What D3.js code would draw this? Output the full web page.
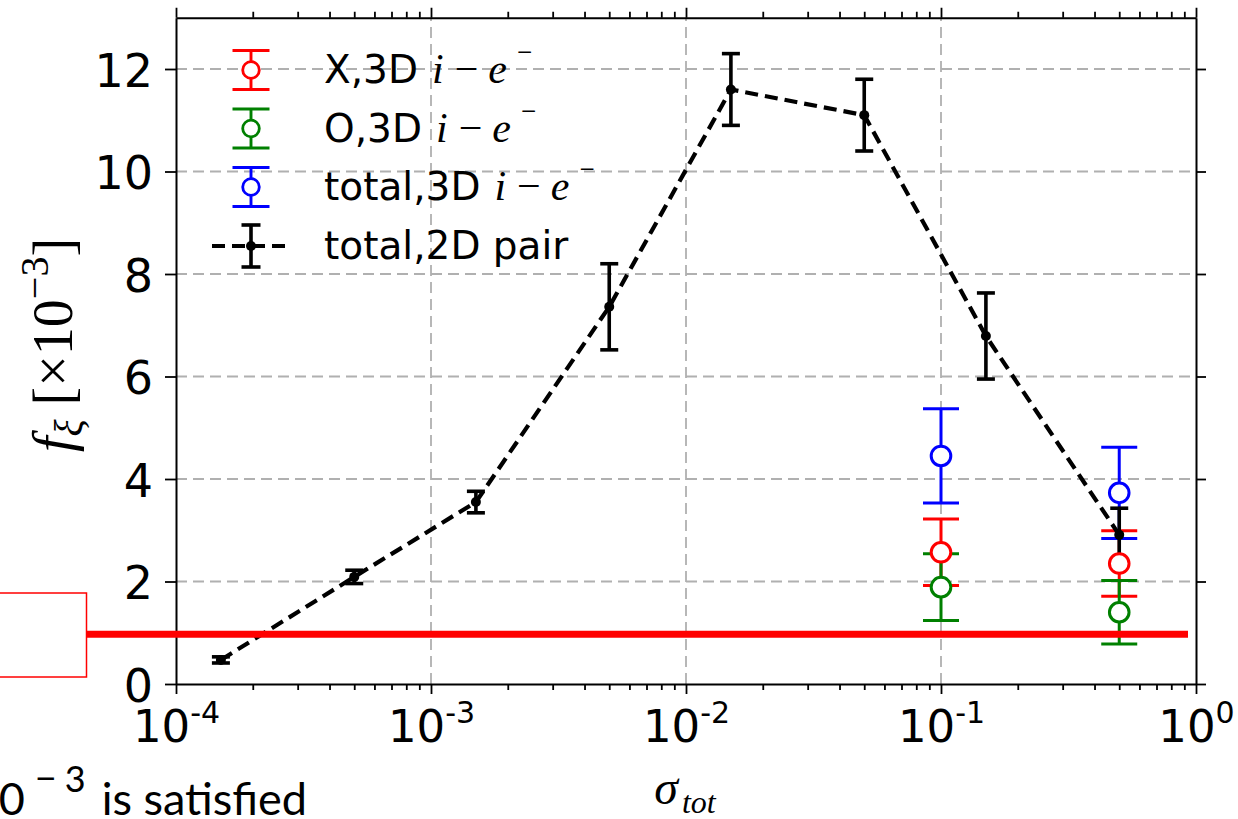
<!DOCTYPE html>
<html>
<head>
<meta charset="utf-8">
<script src="https://cdn.jsdelivr.net/npm/d3@7"></script>
<style>
  body { margin: 0; background: #fff; }
  svg { display: block; }
</style>
</head>
<body>
<div id="chart"></div>
<script>
// total, 2D pair runs
var pairSigma = [1.5e-4, 5e-4, 1.5e-3, 5e-3, 1.5e-2, 5e-2, 0.15, 0.5];
var pairF     = [0.47, 2.09, 3.55, 7.36, 11.6, 11.1, 6.79, 2.91];
var pairErr   = [0.06, 0.13, 0.21, 0.84, 0.70, 0.70, 0.84, 0.52];

// 3D i-e runs
var sigma3D  = [0.1, 0.5];
var fX       = [2.57, 2.35];
var errX     = [0.65, 0.64];
var fO       = [1.89, 1.40];
var errO     = [0.65, 0.62];
var fTotal   = [4.45, 3.73];
var errTotal = [0.92, 0.89];

// hand-drawn threshold line (x10^-3)
var threshold = 0.97;

var xMajor = [1e-4, 1e-3, 1e-2, 1e-1, 1];
var xExponents = ["-4", "-3", "-2", "-1", "0"];
var yTicks = [0, 2, 4, 6, 8, 10, 12];

var legendLabels = ["X,3D", "O,3D", "total,3D", "total,2D pair"];
var legendColors = ["#ff0000", "#008000", "#0000ff", "#000000"];

var W = 1238, H = 819;
// note: "top" is taken by window.top, so keep these prefixed
var axLeft = 176, axRight = 1196, axTop = 17.75, axBottom = 684;

var svg = d3.select("#chart").append("svg")
    .attr("width", W)
    .attr("height", H)
    .style("font-family", "'DejaVu Sans', sans-serif");

var x = d3.scaleLog().domain([1e-4, 1]).range([axLeft, axRight]);
var y = d3.scaleLinear().domain([0, 13]).range([axBottom, axTop]);

var xMinor = [];
for (var d = -4; d < 0; d++) {
  for (var k = 2; k < 10; k++) xMinor.push(k * Math.pow(10, d));
}

// grid
var grid = svg.append("g")
    .attr("stroke", "#b0b0b0")
    .attr("stroke-width", 1.8)
    .attr("stroke-dasharray", "11,6");
grid.selectAll(".vgrid")
    .data(xMajor.slice(1, -1))
  .enter().append("line")
    .attr("x1", function(v) { return x(v); })
    .attr("x2", function(v) { return x(v); })
    .attr("y1", axBottom).attr("y2", axTop);
grid.selectAll(".hgrid")
    .data(yTicks.slice(1))
  .enter().append("line")
    .attr("x1", axLeft).attr("x2", axRight)
    .attr("y1", function(v) { return y(v); })
    .attr("y2", function(v) { return y(v); });

// axes
function styleAxis(g) {
  g.select(".domain").attr("stroke", "#000").attr("stroke-width", 2);
  g.selectAll(".tick line").attr("stroke", "#000").attr("stroke-width", 1.8);
}

var xb = svg.append("g")
    .attr("transform", "translate(0," + axBottom + ")")
    .call(d3.axisBottom(x).tickValues(xMajor).tickSize(10).tickSizeOuter(0).tickFormat(""))
    .call(styleAxis);
svg.append("g")
    .attr("transform", "translate(0," + axBottom + ")")
    .call(d3.axisBottom(x).tickValues(xMinor).tickSize(6).tickFormat(""))
    .call(styleAxis)
    .select(".domain").remove();
svg.append("g")
    .attr("transform", "translate(0," + axTop + ")")
    .call(d3.axisTop(x).tickValues(xMajor).tickSize(10).tickSizeOuter(0).tickFormat(""))
    .call(styleAxis);
svg.append("g")
    .attr("transform", "translate(0," + axTop + ")")
    .call(d3.axisTop(x).tickValues(xMinor).tickSize(6).tickFormat(""))
    .call(styleAxis)
    .select(".domain").remove();

var yl = svg.append("g")
    .attr("transform", "translate(" + axLeft + ",0)")
    .call(d3.axisLeft(y).tickValues(yTicks).tickSize(11).tickPadding(12).tickSizeOuter(0))
    .call(styleAxis);
yl.selectAll(".tick text")
    .attr("fill", "#000")
    .style("font-size", "46px")
    .style("font-family", "'DejaVu Sans', sans-serif")
    .attr("dy", "0.37em");
svg.append("g")
    .attr("transform", "translate(" + axRight + ",0)")
    .call(d3.axisRight(y).tickValues(yTicks).tickSize(10).tickSizeOuter(0).tickFormat(""))
    .call(styleAxis);

// x tick labels 10^n
xb.selectAll(".tick text")
    .each(function(v, i) {
      var t = d3.select(this)
          .attr("y", 58).attr("dy", 0)
          .attr("fill", "#000")
          .attr("text-anchor", "middle")
          .style("font-size", "45px")
          .style("font-family", "'DejaVu Sans', sans-serif")
          .text("10");
      t.append("tspan")
          .attr("dy", -19)
          .style("font-size", "30px")
          .text(xExponents[i]);
    });

// error bars
function errorBars(g, xs, ys, errs, color, capHalf, lw) {
  var idx = d3.range(xs.length);
  g.selectAll(null).data(idx).enter().append("line")
      .attr("x1", function(i) { return x(xs[i]); })
      .attr("x2", function(i) { return x(xs[i]); })
      .attr("y1", function(i) { return y(ys[i] - errs[i]); })
      .attr("y2", function(i) { return y(ys[i] + errs[i]); })
      .attr("stroke", color).attr("stroke-width", lw);
  [-1, 1].forEach(function(s) {
    g.selectAll(null).data(idx).enter().append("line")
        .attr("x1", function(i) { return x(xs[i]) - capHalf; })
        .attr("x2", function(i) { return x(xs[i]) + capHalf; })
        .attr("y1", function(i) { return y(ys[i] + s * errs[i]); })
        .attr("y2", function(i) { return y(ys[i] + s * errs[i]); })
        .attr("stroke", color).attr("stroke-width", lw);
  });
}

var plot = svg.append("g");
errorBars(plot, sigma3D, fX, errX, legendColors[0], 18, 3);
errorBars(plot, sigma3D, fO, errO, legendColors[1], 18, 3);
errorBars(plot, sigma3D, fTotal, errTotal, legendColors[2], 18, 3);
errorBars(plot, pairSigma, pairF, pairErr, "#000", 9, 3.6);

plot.append("path")
    .datum(d3.range(pairSigma.length))
    .attr("fill", "none")
    .attr("stroke", "#000")
    .attr("stroke-width", 4.2)
    .attr("stroke-dasharray", "13,7")
    .attr("d", d3.line()
        .x(function(i) { return x(pairSigma[i]); })
        .y(function(i) { return y(pairF[i]); }));

plot.selectAll(".pairdot")
    .data(d3.range(pairSigma.length))
  .enter().append("circle")
    .attr("cx", function(i) { return x(pairSigma[i]); })
    .attr("cy", function(i) { return y(pairF[i]); })
    .attr("r", 5)
    .attr("fill", "#000");

[[fX, legendColors[0]], [fO, legendColors[1]], [fTotal, legendColors[2]]].forEach(function(s) {
  plot.selectAll(null)
      .data(d3.range(sigma3D.length))
    .enter().append("circle")
      .attr("cx", function(i) { return x(sigma3D[i]); })
      .attr("cy", function(i) { return y(s[0][i]); })
      .attr("r", 9.8)
      .attr("fill", "#fff")
      .attr("stroke", s[1])
      .attr("stroke-width", 3);
});

// legend
var rowY = [70, 128.5, 187, 246];
var hx = 251;
var legend = svg.append("g");
[0, 1, 2].forEach(function(i) {
  var c = legendColors[i], cy = rowY[i];
  legend.append("line").attr("x1", hx).attr("x2", hx)
      .attr("y1", cy - 19.5).attr("y2", cy + 19.5)
      .attr("stroke", c).attr("stroke-width", 2.9);
  [-19.5, 19.5].forEach(function(o) {
    legend.append("line").attr("x1", hx - 18.5).attr("x2", hx + 18.5)
        .attr("y1", cy + o).attr("y2", cy + o)
        .attr("stroke", c).attr("stroke-width", 2.9);
  });
  legend.append("circle").attr("cx", hx).attr("cy", cy).attr("r", 8.3)
      .attr("fill", "#fff").attr("stroke", c).attr("stroke-width", 2.8);
});
(function() {
  var cy = rowY[3];
  legend.append("line").attr("x1", 212).attr("x2", 290)
      .attr("y1", cy).attr("y2", cy)
      .attr("stroke", "#000").attr("stroke-width", 4.2)
      .attr("stroke-dasharray", "13,7");
  legend.append("line").attr("x1", hx).attr("x2", hx)
      .attr("y1", cy - 21).attr("y2", cy + 21)
      .attr("stroke", "#000").attr("stroke-width", 3.6);
  [-21, 21].forEach(function(o) {
    legend.append("line").attr("x1", hx - 9.5).attr("x2", hx + 9.5)
        .attr("y1", cy + o).attr("y2", cy + o)
        .attr("stroke", "#000").attr("stroke-width", 3.6);
  });
  legend.append("circle").attr("cx", hx).attr("cy", cy).attr("r", 5).attr("fill", "#000");
})();

legendLabels.forEach(function(lab, i) {
  var t = legend.append("text")
      .attr("x", 324).attr("y", rowY[i] + 13)
      .attr("fill", "#000")
      .style("font-size", "39px")
      .text(lab);
  if (i < 3) {
    var serif = "'Liberation Serif', 'DejaVu Serif', serif";
    t.append("tspan").attr("dx", 14)
        .style("font-family", serif).style("font-style", "italic").style("font-size", "42px")
        .text("i");
    t.append("tspan").attr("dx", 11)
        .style("font-family", serif).style("font-size", "42px")
        .text("\u2212");
    t.append("tspan").attr("dx", 10)
        .style("font-family", serif).style("font-style", "italic").style("font-size", "42px")
        .text("e");
    t.append("tspan").attr("dx", 10).attr("dy", -22)
        .style("font-family", serif).style("font-size", "27px")
        .text("\u2212");
  }
});

// axis labels
var serifFont = "'Liberation Serif', 'DejaVu Serif', serif";
var ylab = svg.append("text")
    .attr("transform", "translate(72,345) rotate(-90)")
    .attr("text-anchor", "middle")
    .attr("fill", "#000")
    .style("font-family", serifFont)
    .style("font-size", "56px");
ylab.append("tspan").style("font-style", "italic").text("f");
ylab.append("tspan").attr("dy", 10).style("font-style", "italic").style("font-size", "40px").text("\u03be");
ylab.append("tspan").attr("dy", -10).attr("dx", 14).text("[\u00d710");
ylab.append("tspan").attr("dy", -24).style("font-size", "40px").text("\u22123");
ylab.append("tspan").attr("dy", 24).text("]");

var xlab = svg.append("text")
    .attr("x", 685).attr("y", 804)
    .attr("text-anchor", "middle")
    .attr("fill", "#000")
    .style("font-family", serifFont)
    .style("font-size", "48px");
xlab.append("tspan").style("font-style", "italic").text("\u03c3");
xlab.append("tspan").attr("dy", 9).attr("dx", 4).style("font-style", "italic").style("font-size", "32px").text("tot");

// overlay annotation
svg.append("line")
    .attr("x1", 86).attr("x2", 1188)
    .attr("y1", y(threshold)).attr("y2", y(threshold))
    .attr("stroke", "#ff0000")
    .attr("stroke-width", 7);
svg.append("rect")
    .attr("x", -5).attr("y", 593)
    .attr("width", 91.5).attr("height", 84)
    .attr("fill", "#fff")
    .attr("stroke", "#ff0000")
    .attr("stroke-width", 1.5);

var note = svg.append("text")
    .attr("x", 307).attr("y", 815)
    .attr("text-anchor", "end")
    .attr("fill", "#000")
    .style("font-family", "Lato, 'Open Sans', sans-serif")
    .style("font-size", "45px")
    .text("10");
note.append("tspan").attr("dy", -23).attr("dx", 10).style("font-size", "38px").text("\u2212");
note.append("tspan").attr("dx", 8).style("font-size", "36px").text("3");
note.append("tspan").attr("dy", 23).attr("dx", 16).text("is satisfied");
</script>
</body>
</html>
